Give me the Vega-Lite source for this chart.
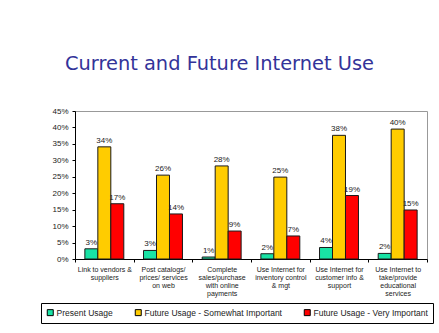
{
  "$schema": "https://vega.github.io/schema/vega-lite/v6.json",
  "width": 352,
  "height": 148,
  "autosize": {"type": "none"},
  "padding": {"left": 75, "top": 111, "right": 12, "bottom": 74},
  "background": "white",
  "title": {
    "text": "Current and Future Internet Use",
    "anchor": "start",
    "frame": "group",
    "dx": -10,
    "offset": 18,
    "baseline": "alphabetic",
    "font": "DejaVu Sans",
    "fontSize": 19.4,
    "fontWeight": "normal",
    "color": "#333399"
  },
  "config": {
    "view": {"stroke": "#999999", "strokeWidth": 1},
    "font": "Liberation Sans"
  },
  "data": {
    "values": [
      {"cat": "Link to vendors &|suppliers", "series": "Present Usage", "value": 0.031},
      {"cat": "Link to vendors &|suppliers", "series": "Future Usage - Somewhat Important", "value": 0.341},
      {"cat": "Link to vendors &|suppliers", "series": "Future Usage - Very Important", "value": 0.168},
      {"cat": "Post catalogs/|prices/ services|on web", "series": "Present Usage", "value": 0.026},
      {"cat": "Post catalogs/|prices/ services|on web", "series": "Future Usage - Somewhat Important", "value": 0.255},
      {"cat": "Post catalogs/|prices/ services|on web", "series": "Future Usage - Very Important", "value": 0.137},
      {"cat": "Complete|sales/purchase|with online|payments", "series": "Present Usage", "value": 0.006},
      {"cat": "Complete|sales/purchase|with online|payments", "series": "Future Usage - Somewhat Important", "value": 0.283},
      {"cat": "Complete|sales/purchase|with online|payments", "series": "Future Usage - Very Important", "value": 0.085},
      {"cat": "Use Internet for|inventory control|& mgt", "series": "Present Usage", "value": 0.016},
      {"cat": "Use Internet for|inventory control|& mgt", "series": "Future Usage - Somewhat Important", "value": 0.249},
      {"cat": "Use Internet for|inventory control|& mgt", "series": "Future Usage - Very Important", "value": 0.07},
      {"cat": "Use Internet for|customer info &|support", "series": "Present Usage", "value": 0.035},
      {"cat": "Use Internet for|customer info &|support", "series": "Future Usage - Somewhat Important", "value": 0.376},
      {"cat": "Use Internet for|customer info &|support", "series": "Future Usage - Very Important", "value": 0.193},
      {"cat": "Use Internet to|take/provide|educational|services", "series": "Present Usage", "value": 0.017},
      {"cat": "Use Internet to|take/provide|educational|services", "series": "Future Usage - Somewhat Important", "value": 0.395},
      {"cat": "Use Internet to|take/provide|educational|services", "series": "Future Usage - Very Important", "value": 0.149}
    ]
  },
  "encoding": {
    "x": {
      "field": "cat",
      "type": "nominal",
      "sort": null,
      "scale": {"paddingInner": 0, "paddingOuter": 0},
      "axis": {
        "title": null,
        "labelExpr": "split(datum.label, '|')",
        "labelAngle": 0,
        "labelAlign": "center",
        "labelFontSize": 7,
        "labelLineHeight": 8,
        "labelColor": "#222222",
        "labelPadding": 3,
        "labelBaseline": "top",
        "labelLimit": 0,
        "tickBand": "extent",
        "tickColor": "#000000",
        "tickSize": 3,
        "domainColor": "#000000"
      }
    },
    "xOffset": {
      "field": "series",
      "type": "nominal",
      "sort": null,
      "scale": {"paddingInner": 0, "paddingOuter": 0.76}
    },
    "y": {
      "field": "value",
      "type": "quantitative",
      "scale": {"domain": [0, 0.45], "nice": false},
      "axis": {
        "title": null,
        "values": [0, 0.05, 0.1, 0.15, 0.2, 0.25, 0.3, 0.35, 0.4, 0.45],
        "format": ".0%",
        "grid": false,
        "labelFontSize": 8,
        "labelColor": "#222222",
        "labelPadding": 4,
        "tickColor": "#000000",
        "tickSize": 3,
        "domainColor": "#000000"
      }
    }
  },
  "layer": [
    {
      "mark": {"type": "bar", "stroke": "#1a1a1a", "strokeWidth": 1},
      "encoding": {
        "color": {
          "field": "series",
          "type": "nominal",
          "sort": null,
          "scale": {
            "domain": ["Present Usage", "Future Usage - Somewhat Important", "Future Usage - Very Important"],
            "range": ["#19E3A5", "#FFCC00", "#FF0000"]
          },
          "legend": {
            "title": null,
            "orient": "none",
            "direction": "horizontal",
            "legendX": -34,
            "legendY": 192,
            "columns": 3,
            "columnPadding": 20,
            "padding": 5,
            "strokeColor": "#000000",
            "fillColor": "white",
            "symbolType": "square",
            "symbolSize": 36,
            "symbolStrokeColor": "#000000",
            "symbolStrokeWidth": 1,
            "symbolOpacity": 1,
            "labelFontSize": 8.5,
            "labelColor": "#222222",
            "labelOffset": 2,
            "labelLimit": 0
          }
        }
      }
    },
    {
      "mark": {"type": "text", "baseline": "alphabetic", "dy": -4, "fontSize": 8, "color": "#222222"},
      "encoding": {
        "text": {"field": "value", "type": "quantitative", "format": ".0%"}
      }
    }
  ]
}
